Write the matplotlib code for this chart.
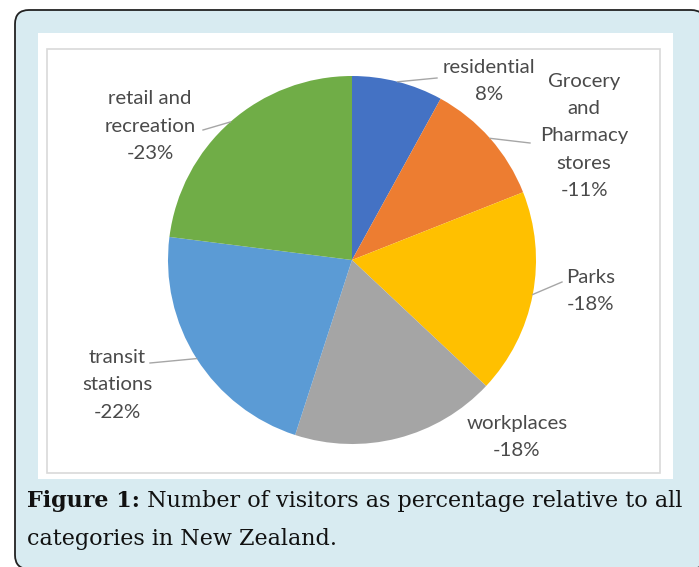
import numpy as np
import matplotlib.pyplot as plt
from matplotlib.patches import FancyBboxPatch, Rectangle

# data
categories = ['residential', 'Grocery\nand\nPharmacy\nstores', 'Parks',
              'workplaces', 'transit\nstations', 'retail and\nrecreation']
values = [8, 11, 18, 18, 22, 23]
pct_labels = ['8%', '-11%', '-18%', '-18%', '-22%', '-23%']
colors = ['#4472c4', '#ed7d31', '#ffc000', '#a5a5a5', '#5b9bd5', '#70ad47']

W, H = 699, 567


def Y(y):
    # picture rows -> axis units (y up)
    return H - y


fig = plt.figure(figsize=(6.99, 5.67), dpi=100)
ax = fig.add_axes([0, 0, 1, 1])

# frame: light blue rounded box, white chart panel, grey chart border
ax.add_patch(FancyBboxPatch((15, Y(569)), 690, 559,
                            boxstyle='round,pad=0,rounding_size=14',
                            fc='#d8ebf1', ec='#222222', lw=1.3, zorder=0))
ax.add_patch(Rectangle((38, Y(479)), 635, 446, fc='white', ec='none', zorder=1))
ax.add_patch(Rectangle((47, Y(473)), 613, 424, fill=False, ec='#d9d9d9',
                       lw=1.2, zorder=2))

cx, cy, r = 352, Y(260), 184
wedges, _ = ax.pie(values, colors=colors, startangle=90, counterclock=False,
                   center=(cx, cy), radius=r,
                   wedgeprops=dict(linewidth=0, zorder=3))

ax.set_xlim(0, W)
ax.set_ylim(0, H)
ax.set_aspect('equal')
ax.axis('off')

# label centres and leader line end points (picture pixels)
label_pos = [(489, 81), (584, 136), (591, 291), (517, 437), (117, 385), (150, 126)]
line_end = [(437, 78), (530, 143), (562, 282), None, (150, 363), (203, 130)]

for w, cat, pct, (lx, ly), le in zip(wedges, categories, pct_labels, label_pos, line_end):
    ax.text(lx, Y(ly), cat + '\n' + pct, ha='center', va='center',
            fontsize=14.7, family='Lato', color='#4a4a4a', linespacing=1.72,
            zorder=5)
    if le is None:
        continue
    mid = np.deg2rad((w.theta1 + w.theta2) / 2)
    ex, ey = cx + r * np.cos(mid), cy + r * np.sin(mid)
    ax.plot([ex, le[0]], [ey, Y(le[1])], color='#a6a6a6', lw=1, zorder=4)

# caption, bold lead-in then plain text, fitted to the line width
cap_font = 'DejaVu Serif'
fs = 14
t1 = ax.text(27, Y(507), 'Figure 1:', family=cap_font, fontweight='bold',
             fontsize=fs, va='baseline', color='#111111')
t2 = ax.text(0, Y(507), ' Number of visitors as percentage relative to all',
             family=cap_font, fontsize=fs, va='baseline', color='#111111')
t3 = ax.text(27, Y(545), 'categories in New Zealand.', family=cap_font,
             fontsize=fs, va='baseline', color='#111111')

renderer = fig.canvas.get_renderer()
for _ in range(2):
    wtot = t1.get_window_extent(renderer).width + t2.get_window_extent(renderer).width
    fs = fs * 656 / wtot
    for t in (t1, t2, t3):
        t.set_fontsize(fs)
bb = t1.get_window_extent(renderer)
t2.set_x(ax.transData.inverted().transform((bb.x1, 0))[0])

fig.savefig('out.png', dpi=100)
